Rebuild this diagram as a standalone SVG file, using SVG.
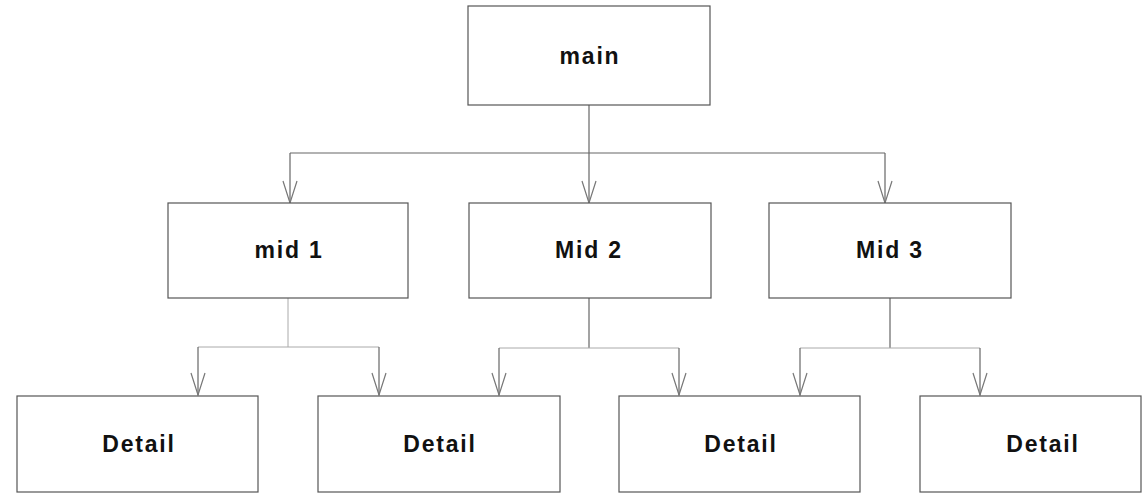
<svg xmlns="http://www.w3.org/2000/svg" width="1146" height="493" viewBox="0 0 1146 493">
<style>
.box{fill:#fff;stroke:#555;stroke-width:1.2}
.lbl{font-family:"Liberation Sans",Arial,sans-serif;font-weight:bold;font-size:23px;fill:#111;text-anchor:middle;letter-spacing:1.8px}
.ln{fill:none;stroke:#666;stroke-width:1.2}
.lt{fill:none;stroke:#aaa;stroke-width:1}
</style>
<defs>
<marker id="v" markerWidth="24" markerHeight="18" refX="23" refY="9" orient="auto" markerUnits="userSpaceOnUse" viewBox="0 0 24 18">
<path d="M1,2 L23,9 L1,16" fill="none" stroke="#777" stroke-width="1.2"/>
</marker>
</defs>
<rect width="1146" height="493" fill="#fff"/>
<g id="connectors">
<line class="ln" x1="589" y1="105" x2="589" y2="153"/>
<line class="ln" x1="290" y1="153" x2="885" y2="153"/>
<line class="ln" x1="290" y1="153" x2="290" y2="203" marker-end="url(#v)"/>
<line class="ln" x1="589" y1="153" x2="589" y2="203" marker-end="url(#v)"/>
<line class="ln" x1="885" y1="153" x2="885" y2="203" marker-end="url(#v)"/>
<line class="lt" x1="288" y1="298" x2="288" y2="347"/>
<line class="lt" x1="198" y1="347" x2="379" y2="347"/>
<line class="ln" x1="198" y1="347" x2="198" y2="395" marker-end="url(#v)"/>
<line class="ln" x1="379" y1="347" x2="379" y2="395" marker-end="url(#v)"/>
<line class="ln" x1="589" y1="298" x2="589" y2="348"/>
<line class="lt" x1="499" y1="348" x2="679" y2="348"/>
<line class="ln" x1="499" y1="348" x2="499" y2="395" marker-end="url(#v)"/>
<line class="ln" x1="679" y1="348" x2="679" y2="395" marker-end="url(#v)"/>
<line class="ln" x1="890" y1="298" x2="890" y2="348"/>
<line class="lt" x1="800" y1="348" x2="980" y2="348"/>
<line class="ln" x1="800" y1="348" x2="800" y2="395" marker-end="url(#v)"/>
<line class="ln" x1="980" y1="348" x2="980" y2="395" marker-end="url(#v)"/>
</g>
<g id="main"><rect class="box" x="468" y="6" width="242" height="99"/><text class="lbl" x="590" y="64">main</text></g>
<g id="mid1"><rect class="box" x="168" y="203" width="240" height="95"/><text class="lbl" x="289" y="258">mid 1</text></g>
<g id="mid2"><rect class="box" x="469" y="203" width="242" height="95"/><text class="lbl" x="589" y="258">Mid 2</text></g>
<g id="mid3"><rect class="box" x="769" y="203" width="242" height="95"/><text class="lbl" x="890" y="258">Mid 3</text></g>
<g id="detail1"><rect class="box" x="17" y="396" width="241" height="96"/><text class="lbl" x="139" y="452">Detail</text></g>
<g id="detail2"><rect class="box" x="318" y="396" width="242" height="96"/><text class="lbl" x="440" y="452">Detail</text></g>
<g id="detail3"><rect class="box" x="619" y="396" width="241" height="96"/><text class="lbl" x="741" y="452">Detail</text></g>
<g id="detail4"><rect class="box" x="920" y="396" width="221" height="96"/><text class="lbl" x="1043" y="452">Detail</text></g>
</svg>
